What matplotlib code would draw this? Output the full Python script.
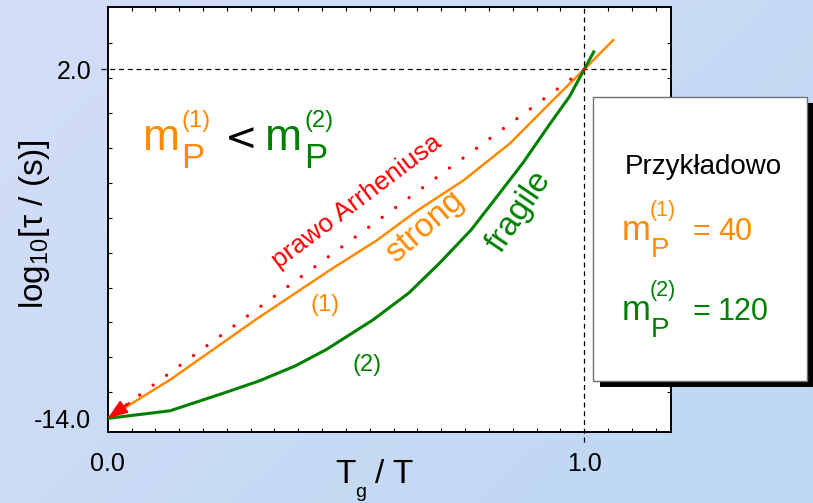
import numpy as np
import matplotlib.pyplot as plt
from matplotlib.patches import Rectangle
from matplotlib.colors import LinearSegmentedColormap
from matplotlib.ticker import FixedLocator

plt.rcParams['font.family'] = ['Liberation Sans', 'DejaVu Sans']
plt.rcParams['mathtext.fontset'] = 'custom'
plt.rcParams['mathtext.rm'] = 'Liberation Sans'
plt.rcParams['mathtext.it'] = 'Liberation Sans:italic'

W, H = 813, 503

# curves (Tg/T, log10 tau)
x_strong = [0.0, 0.133, 0.312, 0.47, 0.564, 0.648, 0.746, 0.844, 0.928, 1.0, 1.061]
y_strong = [-14.0, -12.2, -9.45, -7.15, -5.85, -4.5, -3.1, -1.4, 0.45, 2.0, 3.34]

x_fragile = [0.0, 0.131, 0.242, 0.317, 0.393, 0.459, 0.557, 0.632, 0.697, 0.763, 0.817, 0.871, 0.928, 0.969, 1.0, 1.02]
y_fragile = [-14.0, -13.65, -12.85, -12.29, -11.6, -10.84, -9.48, -8.25, -6.87, -5.35, -3.83, -2.3, -0.5, 0.75, 2.0, 2.8]

x_arrh = [1.0, 0.0]
y_arrh = [2.0, -14.0]

tg_mark = 1.0
tau_mark = 2.0
m_strong = 40
m_fragile = 120

ORANGE = '#ff8a00'
GREEN = '#008000'
RED = '#ff0000'


def fpx(x, y):
    # figure pixel -> figure fraction
    return x / W, 1 - y / H


fig = plt.figure(figsize=(W / 100, H / 100), dpi=100)

# gradient background
bg = fig.add_axes([0, 0, 1, 1], zorder=-5)
gx, gy = np.meshgrid(np.linspace(0, 1, 200), np.linspace(0, 1, 200))
cmap = LinearSegmentedColormap.from_list('bg', ['#d4def9', '#bdd7f1'])
bg.imshow(0.6 * gx + 0.4 * gy, cmap=cmap, aspect='auto', extent=[0, 1, 0, 1], origin='upper')
bg.axis('off')

ax = fig.add_axes([107.7 / W, 1 - 431.5 / H, (670.5 - 107.7) / W, (431.5 - 6.7) / H])
ax.set_facecolor('white')
ax.set_xlim(0, 1.181)
ax.set_ylim(-14.6, 4.87)

ax.plot(x_strong, y_strong, color=ORANGE, lw=1.8, zorder=3)
ax.plot(x_fragile, y_fragile, color=GREEN, lw=2.2, zorder=3)
ax.plot(x_arrh, y_arrh, color=RED, lw=2.4, linestyle=(0, (0.01, 5.0)),
        dash_capstyle='round', zorder=4)
ax.annotate('', xy=(x_arrh[1], y_arrh[1]), xytext=(0.045, -13.3),
            arrowprops=dict(arrowstyle='-|>,head_length=0.6,head_width=0.22',
                            mutation_scale=20, color=RED, lw=1.5,
                            shrinkA=0, shrinkB=0),
            annotation_clip=False, zorder=5)

# dashed guides
ax.plot([-0.014, 1.181], [tau_mark, tau_mark], color='black', lw=0.9,
        ls=(0, (4, 3)), clip_on=False, zorder=2)
ax.plot([tg_mark, tg_mark], [-15.07, 4.87], color='black', lw=0.9,
        ls=(0, (4, 3)), clip_on=False, zorder=2)

ax.set_xticks([0, 1])
ax.set_xticklabels(['0.0', '1.0'])
ax.set_yticks([-14, 2])
ax.set_yticklabels(['-14.0', '2.0'])
ax.xaxis.set_minor_locator(FixedLocator(np.arange(0.05, 1.16, 0.05)))
ax.yaxis.set_minor_locator(FixedLocator([3.2, 1.6, 0, -1.6, -3.2, -4.8, -6.4, -8.0, -9.6, -11.2, -12.8]))
ax.tick_params(which='major', length=0, labelsize=18)
ax.tick_params(axis='x', which='major', pad=15)
ax.tick_params(axis='y', which='major', pad=12)
ax.tick_params(which='minor', direction='in', length=3, width=0.8,
               top=True, right=True, bottom=True, left=True)
for s in ax.spines.values():
    s.set_linewidth(1.4)

# annotations inside the plot
ax.text(0.522, -4.06, 'prawo Arrheniusa', color=RED, fontsize=19, rotation=37,
        ha='center', va='center', rotation_mode='anchor')
ax.text(0.665, -5.2, 'strong', color=ORANGE, fontsize=24, rotation=41,
        ha='center', va='center', rotation_mode='anchor')
ax.text(0.864, -4.53, 'fragile', color=GREEN, fontsize=24, rotation=56,
        ha='center', va='center', rotation_mode='anchor')
ax.text(0.457, -8.78, '(1)', color=ORANGE, fontsize=17, ha='center', va='center')
ax.text(0.545, -11.57, '(2)', color=GREEN, fontsize=17, ha='center', va='center')

# m_P^(1) < m_P^(2)
ax.text(0.074, -1.697, 'm', color=ORANGE, fontsize=32, ha='left', va='baseline')
ax.text(0.155, -0.643, '(1)', color=ORANGE, fontsize=17, ha='left', va='baseline')
ax.text(0.155, -2.535, 'P', color=ORANGE, fontsize=25, ha='left', va='baseline')
ax.text(0.28, -1.24, '<', color='black', fontsize=28, family='DejaVu Sans',
        ha='center', va='center')
ax.text(0.33, -1.697, 'm', color=GREEN, fontsize=32, ha='left', va='baseline')
ax.text(0.412, -0.643, '(2)', color=GREEN, fontsize=17, ha='left', va='baseline')
ax.text(0.412, -2.535, 'P', color=GREEN, fontsize=25, ha='left', va='baseline')

# axis labels
fig.text(*fpx(35, 224), r'log$_{10}$[τ / (s)]', fontsize=24, rotation=90,
         ha='center', va='center')
fig.text(*fpx(335, 483), 'T', fontsize=24, ha='left', va='baseline')
fig.text(*fpx(355, 497), 'g', fontsize=14, ha='left', va='baseline')
fig.text(*fpx(375, 483), '/ T', fontsize=24, ha='left', va='baseline')

# side box with shadow
x0, y0 = fpx(599.5, 387.3)
fig.add_artist(Rectangle((x0, y0), (807.3 - 593) / W, (380.7 - 96.7) / H,
                         transform=fig.transFigure, facecolor='black',
                         edgecolor='none', zorder=5))
x0, y0 = fpx(593, 380.7)
fig.add_artist(Rectangle((x0, y0), (807.3 - 593) / W, (380.7 - 96.7) / H,
                         transform=fig.transFigure, facecolor='white',
                         edgecolor='#707070', lw=1.0, zorder=6))

fig.text(*fpx(703.3, 166.7), 'Przykładowo', fontsize=20, ha='center',
         va='center', zorder=7)
for col, lab, val, yb in [(ORANGE, '(1)', m_strong, 240), (GREEN, '(2)', m_fragile, 320)]:
    fig.text(*fpx(622, yb), 'm', color=col, fontsize=25, ha='left', va='baseline', zorder=7)
    fig.text(*fpx(650, yb - 24), lab, color=col, fontsize=15.5, ha='left', va='baseline', zorder=7)
    fig.text(*fpx(651, yb + 17), 'P', color=col, fontsize=20, ha='left', va='baseline', zorder=7)
    fig.text(*fpx(701, yb), '=', color=col, fontsize=22, ha='center', va='baseline', zorder=7)
    fig.text(*fpx(718, yb), str(val), color=col, fontsize=22, ha='left', va='baseline', zorder=7)

fig.savefig('out.png', dpi=100)
